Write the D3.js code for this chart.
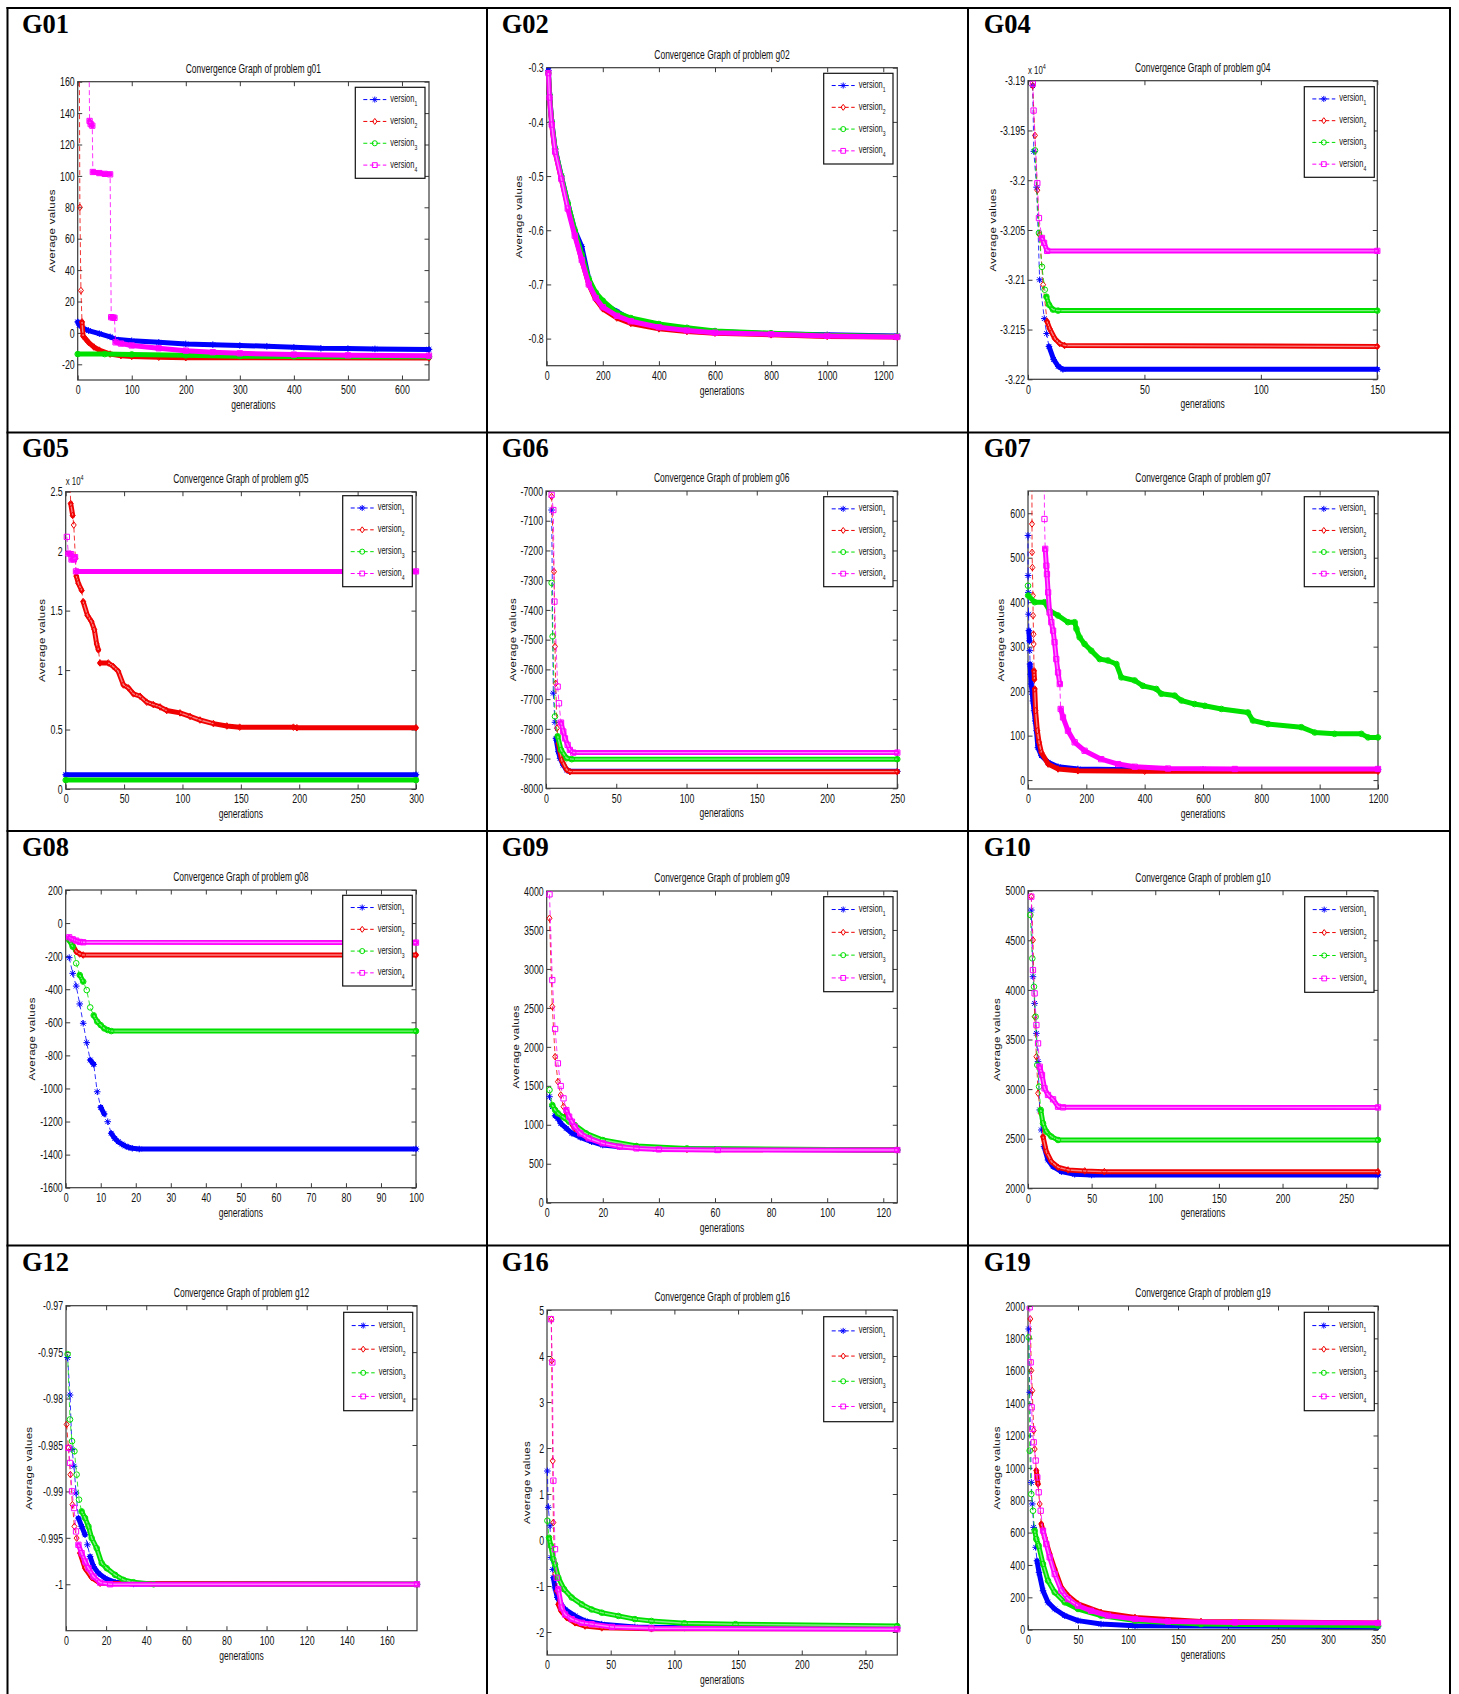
<!DOCTYPE html>
<html>
<head>
<meta charset="utf-8">
<title>Convergence graphs</title>
<script src="https://d3js.org/d3.v7.min.js"></script>
<style>
  body { margin: 0; background: #fff; }
  svg { display: block; }
  .tag { font-family: "Liberation Serif", "Times New Roman", serif; font-weight: bold; font-size: 26.5px; fill: #000; }
  .mtext { font-family: "Liberation Sans", Arial, sans-serif; fill: #111; }
</style>
</head>
<body>
<svg id="chart" width="1459" height="1694"></svg>
<script>
// panels and axes
const panels = ["G01", "G02", "G04", "G05", "G06", "G07", "G08", "G09", "G10", "G12", "G16", "G19"];
const problems = ["g01", "g02", "g04", "g05", "g06", "g07", "g08", "g09", "g10", "g12", "g16", "g19"];
const versionSubs = ["1", "2", "3", "4"];

const xDomains = [[0, 650], [0, 1250], [0, 150], [0, 300], [0, 250], [0, 1200],
                  [0, 100], [0, 125], [0, 275], [0, 175], [0, 275], [0, 350]];
const yDomains = [[-30, 160], [-0.85, -0.3], [-3.22, -3.19], [0, 2.5], [-8000, -7000], [-20, 650],
                  [-1600, 200], [0, 4000], [2000, 5000], [-1.005, -0.97], [-2.5, 5], [0, 2000]];
const xTicks = [
  [0, 100, 200, 300, 400, 500, 600],
  [0, 200, 400, 600, 800, 1000, 1200],
  [0, 50, 100, 150],
  [0, 50, 100, 150, 200, 250, 300],
  [0, 50, 100, 150, 200, 250],
  [0, 200, 400, 600, 800, 1000, 1200],
  [0, 10, 20, 30, 40, 50, 60, 70, 80, 90, 100],
  [0, 20, 40, 60, 80, 100, 120],
  [0, 50, 100, 150, 200, 250],
  [0, 20, 40, 60, 80, 100, 120, 140, 160],
  [0, 50, 100, 150, 200, 250],
  [0, 50, 100, 150, 200, 250, 300, 350]
];
const yTicks = [
  [-20, 0, 20, 40, 60, 80, 100, 120, 140, 160],
  [-0.8, -0.7, -0.6, -0.5, -0.4, -0.3],
  [-3.22, -3.215, -3.21, -3.205, -3.2, -3.195, -3.19],
  [0, 0.5, 1, 1.5, 2, 2.5],
  [-8000, -7900, -7800, -7700, -7600, -7500, -7400, -7300, -7200, -7100, -7000],
  [0, 100, 200, 300, 400, 500, 600],
  [-1600, -1400, -1200, -1000, -800, -600, -400, -200, 0, 200],
  [0, 500, 1000, 1500, 2000, 2500, 3000, 3500, 4000],
  [2000, 2500, 3000, 3500, 4000, 4500, 5000],
  [-1, -0.995, -0.99, -0.985, -0.98, -0.975, -0.97],
  [-2, -1, 0, 1, 2, 3, 4, 5],
  [0, 200, 400, 600, 800, 1000, 1200, 1400, 1600, 1800, 2000]
];
const yExponents = ["", "", "4", "4", "", "", "", "", "", "", "", ""];

// series: [generation, average value]
const g01v1 = [[0, 7], [3, 5], [10, 3], [20, 1.5], [40, -0.5], [60, -2.5], [70, -4], [100, -5], [150, -6], [200, -7], [250, -7.5], [300, -8], [350, -8.5], [400, -9.2], [450, -9.8], [500, -10], [550, -10.2], [650, -10.5]];
const g01v2 = [[3, 175], [4, 80], [6, 27], [8, 7], [10, -2], [15, -4], [20, -6], [30, -9], [40, -11], [60, -13.5], [80, -14.5], [100, -15], [150, -15.5], [200, -15.8], [650, -16]];
const g01v3 = [[0, -13.5], [50, -13.5], [100, -13.7], [200, -14.3], [300, -14.8], [400, -15], [650, -15.2]];
const g01v4 = [[21, 175], [22, 135], [24, 133], [27, 132], [28, 102.5], [40, 101.8], [50, 101.3], [60, 101], [62, 10], [65, 9.8], [68, 9.6], [70, -6], [80, -6.8], [100, -8], [150, -9.8], [200, -11.3], [250, -12.3], [300, -13], [400, -13.8], [500, -14.3], [650, -14.5]];

const g02v1 = [[6, -0.305], [10, -0.35], [18, -0.4], [30, -0.45], [52, -0.5], [75, -0.55], [100, -0.6], [125, -0.63], [150, -0.69], [175, -0.72], [200, -0.735], [250, -0.75], [300, -0.765], [400, -0.777], [500, -0.783], [600, -0.787], [800, -0.791], [1000, -0.793], [1250, -0.795]];
const g02v2 = [[6, -0.31], [10, -0.355], [18, -0.405], [30, -0.455], [52, -0.505], [75, -0.555], [100, -0.605], [125, -0.655], [150, -0.7], [175, -0.728], [200, -0.745], [250, -0.762], [300, -0.772], [400, -0.782], [500, -0.787], [600, -0.79], [800, -0.793], [1000, -0.796], [1250, -0.797]];
const g02v3 = [[6, -0.31], [10, -0.35], [18, -0.4], [30, -0.45], [52, -0.5], [75, -0.55], [100, -0.6], [125, -0.645], [150, -0.69], [175, -0.715], [200, -0.73], [250, -0.752], [300, -0.762], [400, -0.773], [500, -0.78], [600, -0.786], [800, -0.79], [1000, -0.794], [1250, -0.796]];
const g02v4 = [[6, -0.31], [10, -0.355], [18, -0.405], [30, -0.455], [52, -0.505], [75, -0.56], [100, -0.61], [125, -0.655], [150, -0.7], [175, -0.725], [200, -0.742], [250, -0.758], [300, -0.768], [400, -0.779], [500, -0.785], [600, -0.789], [800, -0.792], [1000, -0.795], [1250, -0.797]];

const g04v1 = [[2, -3.1905], [2.5, -3.1971], [3.7, -3.2007], [5, -3.21], [7, -3.2139], [8, -3.2154], [9, -3.2167], [11, -3.218], [13, -3.2187], [15, -3.219], [150, -3.219]];
const g04v2 = [[2, -3.1905], [3, -3.1955], [4, -3.201], [5, -3.2055], [6.5, -3.2105], [8.2, -3.2142], [9.3, -3.2149], [11.5, -3.2159], [13.6, -3.2164], [15.7, -3.2166], [150, -3.2167]];
const g04v3 = [[3, -3.197], [4.7, -3.2053], [6, -3.2087], [7.2, -3.211], [7.9, -3.2117], [9, -3.2125], [10.7, -3.213], [12.9, -3.2131], [150, -3.2131]];
const g04v4 = [[2.1, -3.1903], [2.4, -3.193], [4, -3.2003], [4.7, -3.2038], [6, -3.2058], [6.9, -3.2063], [8.2, -3.2071], [150, -3.2071]];

const g05v1 = [[0, 0.12], [300, 0.12]];
const g05v2 = [[3.5, 2.6], [4.3, 2.4], [6, 2.3], [6.9, 2.22], [8.3, 1.94], [9.1, 1.79], [10.8, 1.73], [13.7, 1.67], [15, 1.575], [18.6, 1.46], [22, 1.41], [24.5, 1.34], [26.5, 1.22], [28, 1.17], [29.4, 1.06], [36.5, 1.06], [40.8, 1.03], [45, 0.99], [49.4, 0.875], [53.7, 0.85], [58, 0.8], [63.7, 0.78], [69.4, 0.73], [75, 0.71], [80.8, 0.69], [86.5, 0.66], [97.9, 0.64], [106.5, 0.61], [115, 0.58], [126.5, 0.55], [138, 0.53], [149, 0.52], [195, 0.52], [198, 0.515], [300, 0.515]];
const g05v3 = [[0, 0.075], [300, 0.075]];
const g05v4 = [[1, 2.12], [2.3, 1.98], [4.6, 1.975], [5, 1.93], [7, 1.93], [8, 1.95], [8.8, 1.83], [300, 1.83]];

const g06v1 = [[4, -7064], [5.2, -7680], [6.4, -7778], [7.1, -7832], [8.8, -7877], [10, -7899], [12.3, -7922], [14.7, -7938], [17, -7943], [250, -7943]];
const g06v2 = [[4, -7019], [5.7, -7271], [6.4, -7523], [6.9, -7647], [7.8, -7798], [8.8, -7849], [11.1, -7905], [14.7, -7938], [17, -7944], [250, -7944]];
const g06v3 = [[4, -7309], [4.7, -7489], [6.4, -7758], [8.3, -7825], [10.7, -7871], [14.7, -7899], [18.3, -7902], [250, -7902]];
const g06v4 = [[4, -7013], [5.2, -7064], [6, -7372], [8.3, -7658], [9.25, -7714], [10.7, -7779], [12.3, -7809], [13.5, -7832], [15.4, -7854], [17, -7871], [19.4, -7880], [250, -7880]];

const g07v1 = [[0, 550], [0.3, 460], [1, 422], [2, 373], [3, 336], [5, 313], [6, 291], [7, 261], [9, 238], [11, 216], [15, 193], [17, 178], [21, 156], [25, 133], [29, 111], [34, 73], [46, 55], [69, 40], [103, 30], [171, 25], [300, 24], [600, 24], [1200, 24]];
const g07v2 = [[13.5, 660], [13.7, 576], [14, 512], [15, 478], [17, 415], [17.5, 370], [19, 328], [19.5, 306], [20.6, 246], [22, 227], [23, 205], [26, 156], [32, 111], [38, 85], [46, 62], [69, 36], [103, 25], [171, 21], [400, 20], [1200, 20]];
const g07v3 = [[0, 437], [0.5, 415], [23, 400], [57, 400], [74, 381], [103, 370], [137, 355], [160, 355], [166, 340], [177, 321], [194, 306], [217, 291], [246, 272], [274, 269], [303, 261], [320, 231], [366, 224], [394, 212], [440, 205], [457, 194], [503, 190], [526, 179], [571, 171], [606, 167], [663, 160], [754, 152], [771, 134], [823, 126], [937, 119], [983, 107], [1051, 104], [1143, 104], [1166, 96], [1200, 96]];
const g07v4 = [[56, 660], [56.5, 587], [59, 520], [63, 482], [65, 463], [69, 422], [74, 377], [80, 355], [86, 336], [91, 310], [97, 272], [103, 242], [109, 216], [112, 160], [120, 141], [137, 111], [160, 85], [194, 66], [251, 47], [309, 36], [366, 30], [480, 26], [709, 25], [1200, 25]];

const g08v1 = [[1, -209], [2, -304], [3, -381], [4, -489], [5, -606], [6, -723], [7, -828], [8, -854], [9, -1020], [10, -1114], [11, -1154], [12, -1201], [13, -1271], [14, -1302], [15, -1322], [16, -1336], [17, -1348], [18, -1356], [19, -1362], [21, -1366], [100, -1366]];
const g08v2 = [[1, -102], [2, -133], [3, -173], [4, -187], [5, -193], [100, -193]];
const g08v3 = [[1, -102], [2, -143], [3, -243], [4, -314], [5, -354], [6, -405], [7, -510], [8, -558], [9, -596], [10, -617], [11, -637], [12, -647], [13, -653], [100, -653]];
const g08v4 = [[1, -86], [2, -98], [3, -106], [4, -114], [5, -116], [100, -118]];

const g09v1 = [[1, 1360], [2, 1232], [3, 1116], [4, 1082], [5, 1018], [7, 954], [9, 890], [12, 839], [16, 783], [20, 740], [26, 719], [38, 697], [60, 685], [125, 676]];
const g09v2 = [[1, 3650], [2, 2516], [3, 1874], [4, 1553], [5, 1382], [6, 1232], [7, 1125], [8, 1061], [10, 954], [14, 847], [20, 783], [32, 719], [50, 684], [125, 676]];
const g09v3 = [[1, 1446], [2, 1253], [3, 1189], [4, 1147], [6, 1095], [8, 1040], [10, 997], [14, 890], [20, 804], [32, 727], [50, 697], [125, 676]];
const g09v4 = [[1, 3957], [2, 2857], [3, 2229], [4, 1788], [5, 1497], [6, 1339], [7, 1189], [8, 1104], [9, 1040], [10, 976], [12, 890], [15, 826], [20, 762], [26, 719], [32, 697], [40, 684], [61, 676], [125, 676]];

const g10v1 = [[2.6, 4805], [3.9, 4133], [5.2, 3864], [6.6, 3562], [7.9, 3277], [9.2, 2790], [10.5, 2588], [12.6, 2420], [15.7, 2286], [19.7, 2218], [26.2, 2168], [36.7, 2141], [50, 2134], [275, 2134]];
const g10v2 = [[2.6, 4940], [3.9, 4503], [5.2, 3730], [6.6, 3327], [7.9, 2958], [10, 2756], [11.8, 2521], [14.4, 2370], [18.4, 2269], [23.6, 2212], [31.5, 2185], [44.6, 2175], [60, 2168], [275, 2168]];
const g10v3 = [[1.8, 4755], [3.4, 4318], [4.7, 4032], [6, 3730], [7.3, 3243], [8.7, 3025], [10, 2790], [11.8, 2655], [14.4, 2571], [18.4, 2521], [23.6, 2487], [275, 2487]];
const g10v4 = [[2.6, 4940], [3.9, 4200], [5.2, 3965], [6.6, 3646], [7.9, 3461], [9.2, 3226], [11, 3142], [13, 3008], [15.7, 2941], [19.7, 2897], [23.6, 2823], [27.5, 2816], [275, 2815]];

const g12v1 = [[0.8, -0.97558], [2, -0.97962], [3, -0.98549], [4, -0.98729], [5, -0.99017], [6.2, -0.99287], [7.8, -0.99377], [9.5, -0.99467], [10.7, -0.99575], [12, -0.99701], [13.7, -0.99809], [16.2, -0.99881], [19.5, -0.99935], [24.5, -0.99978], [33.7, -0.99996], [175, -1]];
const g12v2 = [[0.3, -0.98279], [1.2, -0.98531], [2.2, -0.98819], [3.2, -0.99143], [4.2, -0.99377], [5.3, -0.99503], [7, -0.99665], [9.5, -0.99827], [12.8, -0.99928], [17, -0.99989], [175, -1]];
const g12v3 = [[0.8, -0.97522], [2, -0.98225], [3, -0.98459], [4.2, -0.98567], [5.3, -0.98819], [6.5, -0.99089], [7.8, -0.99215], [9.5, -0.99287], [11.2, -0.99377], [12.8, -0.99503], [15.3, -0.99611], [17.8, -0.99773], [20.3, -0.99827], [24.5, -0.99899], [28.7, -0.99953], [33.7, -0.99978], [43.7, -1], [175, -1]];
const g12v4 = [[1.2, -0.98531], [2, -0.98693], [3, -0.98999], [4, -0.99179], [5, -0.99431], [6.2, -0.99575], [7.8, -0.99665], [9.5, -0.99755], [11.2, -0.99827], [13.7, -0.99917], [17, -0.99982], [22, -1], [175, -1]];

const g16v1 = [[0.3, 1.5], [1, 0.71], [2.4, 0.31], [3.1, -0.38], [4.5, -0.64], [5, -0.82], [6.3, -1.04], [8.1, -1.25], [10.2, -1.36], [14.2, -1.51], [22, -1.65], [29.9, -1.76], [43, -1.83], [69, -1.89], [108, -1.91], [275, -1.91]];
const g16v2 = [[3.5, 4.8], [3.7, 3.9], [4.5, 1.72], [5, 0.38], [6.3, -0.74], [7.6, -1.11], [8.9, -1.4], [11, -1.54], [15.5, -1.69], [22, -1.8], [29.9, -1.87], [43, -1.91], [82, -1.93], [275, -1.93]];
const g16v3 = [[0.3, 0.42], [1.6, 0.05], [3.1, -0.13], [5, -0.42], [6.3, -0.53], [8.9, -0.82], [13.4, -1.07], [19.4, -1.25], [27.3, -1.4], [35, -1.51], [43, -1.58], [56, -1.65], [69, -1.72], [82, -1.76], [108, -1.81], [148, -1.83], [275, -1.87]];
const g16v4 = [[3.1, 4.8], [4.2, 3.86], [5, 1.29], [6.3, -0.2], [7.6, -0.82], [8.9, -1.07], [11.5, -1.47], [14.2, -1.62], [19.4, -1.72], [27.3, -1.8], [35, -1.83], [51, -1.89], [82, -1.92], [275, -1.94]];

const g19v1 = [[0.7, 1858], [1.7, 1467], [3.3, 910], [4.3, 777], [5.7, 632], [7.7, 509], [9, 426], [11, 354], [15, 241], [20, 169], [26.7, 128], [36.7, 87], [50, 56], [73, 35], [107, 25], [350, 19]];
const g19v2 = [[2.3, 1920], [3.3, 1601], [4.3, 1477], [5.7, 1230], [6.7, 1116], [8.3, 983], [10, 900], [11.7, 777], [13.3, 653], [16.7, 571], [21.7, 468], [26.7, 375], [33.3, 262], [40, 210], [50, 159], [73, 107], [107, 76], [173, 51], [350, 41]];
const g19v3 = [[0.7, 1806], [1.7, 1106], [3.3, 838], [5, 735], [6.7, 612], [8.3, 560], [10.7, 519], [15, 406], [20, 303], [26.7, 231], [36.7, 169], [50, 128], [73, 87], [107, 56], [173, 35], [350, 25]];
const g19v4 = [[1.7, 1992], [2.7, 1652], [3.7, 1374], [4.3, 1240], [5.7, 1158], [7.7, 1045], [9.3, 941], [10.7, 849], [12.7, 735], [15, 612], [18.3, 529], [21.7, 447], [26.7, 344], [33.3, 241], [40, 189], [50, 148], [63, 117], [80, 87], [107, 66], [140, 51], [207, 45], [350, 41]];

const seriesTable = [
  [g01v1, g01v2, g01v3, g01v4], [g02v1, g02v2, g02v3, g02v4], [g04v1, g04v2, g04v3, g04v4],
  [g05v1, g05v2, g05v3, g05v4], [g06v1, g06v2, g06v3, g06v4], [g07v1, g07v2, g07v3, g07v4],
  [g08v1, g08v2, g08v3, g08v4], [g09v1, g09v2, g09v3, g09v4], [g10v1, g10v2, g10v3, g10v4],
  [g12v1, g12v2, g12v3, g12v4], [g16v1, g16v2, g16v3, g16v4], [g19v1, g19v2, g19v3, g19v4]
];

// layout (page pixels)
const colLines = [7.5, 487, 968, 1450];
const rowLines = [8, 432.5, 831, 1245.5];
const tagPositions = [[22, 33], [501.7, 33], [983.7, 33], [22, 456.7], [501.7, 456.7], [983.7, 456.7],
                      [22, 856], [501.7, 856], [983.7, 856], [22, 1270.7], [501.7, 1270.7], [983.7, 1270.7]];
const plotBoxes = [
  [77.7, 81.7, 429, 380], [546.7, 67.7, 897.3, 365.7], [1028, 80.7, 1377.3, 379.3],
  [65.7, 491.7, 416, 789], [546, 491, 897.3, 788.3], [1028, 491, 1378, 789],
  [65.7, 890, 416, 1187.7], [546.7, 891, 897.3, 1202.7], [1028, 890.7, 1378, 1188.3],
  [66, 1305.7, 417, 1630.7], [547, 1310, 897.3, 1655], [1028, 1306, 1378, 1629.7]
];
const legendBoxes = [
  [355.3, 87.3, 425, 178.3], [823.7, 73.3, 893, 164], [1304.3, 86.7, 1374.3, 177.3],
  [342.7, 495.7, 412.3, 586.7], [823.7, 496.7, 893, 586.7], [1304.3, 496.7, 1374.3, 586.7],
  [342.7, 895.3, 412.3, 986], [823.7, 896.7, 893, 991.7], [1304.7, 896.7, 1374, 992.3],
  [343.7, 1312.3, 412.7, 1410.7], [823.7, 1316.7, 893, 1421.7], [1304.3, 1312.3, 1374.3, 1410.7]
];
const yLabelOffsets = [26, 28, 35, 24, 33, 27, 34, 31, 31, 37, 20, 31];

const versionColors = ["#0000ff", "#f00000", "#00e000", "#ff00ff"];
const versionMarkers = ["asterisk", "diamond", "circle", "square"];
const FONT = "'Liberation Sans', Arial, sans-serif";
const SQ = 0.68; // the source figures are squeezed horizontally

const svg = d3.select("#chart");
svg.append("rect").attr("width", 1459).attr("height", 1694).attr("fill", "#fff");

function markerPath(type, r) {
  const p = d3.path();
  if (type === "asterisk") {
    p.moveTo(-r, 0); p.lineTo(r, 0);
    p.moveTo(0, -r); p.lineTo(0, r);
    const d = r * 0.72;
    p.moveTo(-d, -d); p.lineTo(d, d);
    p.moveTo(-d, d); p.lineTo(d, -d);
  } else if (type === "diamond") {
    p.moveTo(0, -r); p.lineTo(r * 0.75, 0); p.lineTo(0, r); p.lineTo(-r * 0.75, 0); p.closePath();
  } else if (type === "circle") {
    p.moveTo(r * 0.85, 0); p.arc(0, 0, r * 0.85, 0, 2 * Math.PI);
  } else {
    const s = r * 0.8;
    p.rect(-s, -s, 2 * s, 2 * s);
  }
  return p.toString();
}

function squeezed(parent, x, y, size, anchor) {
  return parent.append("text")
    .attr("class", "mtext")
    .attr("transform", `translate(${x},${y}) scale(${SQ},1)`)
    .attr("font-size", size)
    .attr("text-anchor", anchor);
}

function styleAxis(sel) {
  sel.select(".domain").remove();
  sel.attr("font-size", 13).attr("font-family", FONT).attr("color", "#3a3a3a");
  sel.selectAll("text").attr("transform", `scale(${SQ},1)`).attr("fill", "#111");
}

function drawSeries(g, pts, k, x, y) {
  const color = versionColors[k];
  const line = d3.line().x(d => x(d[0])).y(d => y(d[1]));

  g.append("path")
    .attr("d", line(pts))
    .attr("fill", "none")
    .attr("stroke", color)
    .attr("stroke-width", 1)
    .attr("stroke-opacity", 0.8)
    .attr("stroke-dasharray", "5,3");

  // where one marker per generation overlaps the next, the markers merge into a band
  const runs = [];
  const hollowSegs = [];
  let cur = null;
  for (let i = 0; i < pts.length - 1; i++) {
    const a = pts[i], b = pts[i + 1];
    const len = Math.hypot(x(b[0]) - x(a[0]), y(b[1]) - y(a[1]));
    const step = len / Math.max(b[0] - a[0], 0.01);
    if (step < 8) {
      if (!cur) { cur = [a]; runs.push(cur); }
      cur.push(b);
      if (step > 1.2) hollowSegs.push([a, b]);
    } else {
      cur = null;
    }
  }
  runs.forEach(r => {
    g.append("path")
      .attr("d", line(r))
      .attr("fill", "none")
      .attr("stroke", color)
      .attr("stroke-width", 5)
      .attr("stroke-linejoin", "round")
      .attr("stroke-linecap", "round");
  });
  if (k > 0) {
    hollowSegs.forEach(s => {
      g.append("path")
        .attr("d", line(s))
        .attr("fill", "none")
        .attr("stroke", "#fff")
        .attr("stroke-opacity", 0.5)
        .attr("stroke-width", 1.4);
    });
  }

  g.selectAll(null)
    .data(pts)
    .enter().append("path")
    .attr("transform", d => `translate(${x(d[0])},${y(d[1])})`)
    .attr("d", markerPath(versionMarkers[k], 3.3))
    .attr("fill", "none")
    .attr("stroke", color)
    .attr("stroke-width", 1);
}

// table grid
colLines.forEach(cx => {
  svg.append("line").attr("x1", cx).attr("x2", cx).attr("y1", rowLines[0] - 1).attr("y2", 1694)
    .attr("stroke", "#000").attr("stroke-width", 2);
});
rowLines.forEach(ry => {
  svg.append("line").attr("x1", colLines[0] - 1).attr("x2", colLines[3] + 1).attr("y1", ry).attr("y2", ry)
    .attr("stroke", "#000").attr("stroke-width", 2);
});

panels.forEach((name, i) => {
  const [x0, y0, x1, y1] = plotBoxes[i];
  const x = d3.scaleLinear().domain(xDomains[i]).range([x0, x1]);
  const y = d3.scaleLinear().domain(yDomains[i]).range([y1, y0]);
  const g = svg.append("g");

  svg.append("text").attr("class", "tag")
    .attr("x", tagPositions[i][0]).attr("y", tagPositions[i][1]).text(name);

  g.append("rect")
    .attr("x", x0).attr("y", y0).attr("width", x1 - x0).attr("height", y1 - y0)
    .attr("fill", "#fff").attr("stroke", "#3a3a3a").attr("stroke-width", 1.2);

  const fmt = d => String(d);
  const none = () => "";
  g.append("g").attr("transform", `translate(0,${y1})`)
    .call(d3.axisBottom(x).tickValues(xTicks[i]).tickFormat(fmt).tickSizeInner(-4.5).tickSizeOuter(0).tickPadding(5))
    .call(styleAxis);
  g.append("g").attr("transform", `translate(${x0},0)`)
    .call(d3.axisLeft(y).tickValues(yTicks[i]).tickFormat(fmt).tickSizeInner(-4.5).tickSizeOuter(0).tickPadding(4.3))
    .call(styleAxis);
  g.append("g").attr("transform", `translate(0,${y0})`)
    .call(d3.axisTop(x).tickValues(xTicks[i]).tickFormat(none).tickSizeInner(-4.5).tickSizeOuter(0))
    .call(styleAxis);
  g.append("g").attr("transform", `translate(${x1},0)`)
    .call(d3.axisRight(y).tickValues(yTicks[i]).tickFormat(none).tickSizeInner(-4.5).tickSizeOuter(0))
    .call(styleAxis);

  squeezed(g, (x0 + x1) / 2, y0 - 9, 12.5, "middle").text("Convergence Graph of problem " + problems[i]);
  squeezed(g, (x0 + x1) / 2, y1 + 29, 12.5, "middle").text("generations");
  g.append("text")
    .attr("class", "mtext")
    .attr("transform", `translate(${x0 - yLabelOffsets[i] + 3},${(y0 + y1) / 2}) scale(0.75,1) rotate(-90)`)
    .attr("text-anchor", "middle")
    .attr("font-size", 11.5)
    .attr("letter-spacing", 0.3)
    .text("Average values");

  if (yExponents[i]) {
    const ex = squeezed(g, x0, y0 - 7, 11.5, "start");
    ex.append("tspan").text("x 10");
    ex.append("tspan").attr("font-size", 8).attr("dy", -5).text(yExponents[i]);
  }

  const clipId = "clip" + i;
  g.append("clipPath").attr("id", clipId)
    .append("rect").attr("x", x0 - 4).attr("y", y0).attr("width", x1 - x0 + 8).attr("height", y1 - y0 + 4);
  const plot = g.append("g").attr("clip-path", `url(#${clipId})`);
  seriesTable[i].forEach((pts, k) => drawSeries(plot, pts, k, x, y));

  // legend
  const lb = legendBoxes[i];
  const lh = lb[3] - lb[1];
  const lg = g.append("g");
  lg.append("rect")
    .attr("x", lb[0]).attr("y", lb[1]).attr("width", lb[2] - lb[0]).attr("height", lh)
    .attr("fill", "#fff").attr("stroke", "#111").attr("stroke-width", 1.2);
  versionSubs.forEach((sub, k) => {
    const ey = lb[1] + lh * (0.135 + k * 0.24);
    lg.append("line")
      .attr("x1", lb[0] + 8).attr("x2", lb[0] + 31).attr("y1", ey).attr("y2", ey)
      .attr("stroke", versionColors[k]).attr("stroke-width", 1).attr("stroke-dasharray", "4,2.5");
    lg.append("path")
      .attr("transform", `translate(${lb[0] + 19.5},${ey})`)
      .attr("d", markerPath(versionMarkers[k], 3))
      .attr("fill", "none").attr("stroke", versionColors[k]).attr("stroke-width", 1);
    const t = squeezed(lg, lb[0] + 35, ey + 2.5, 11, "start");
    t.append("tspan").text("version");
    t.append("tspan").attr("font-size", 7.5).attr("dy", 4).text(sub);
  });
});
</script>
</body>
</html>
